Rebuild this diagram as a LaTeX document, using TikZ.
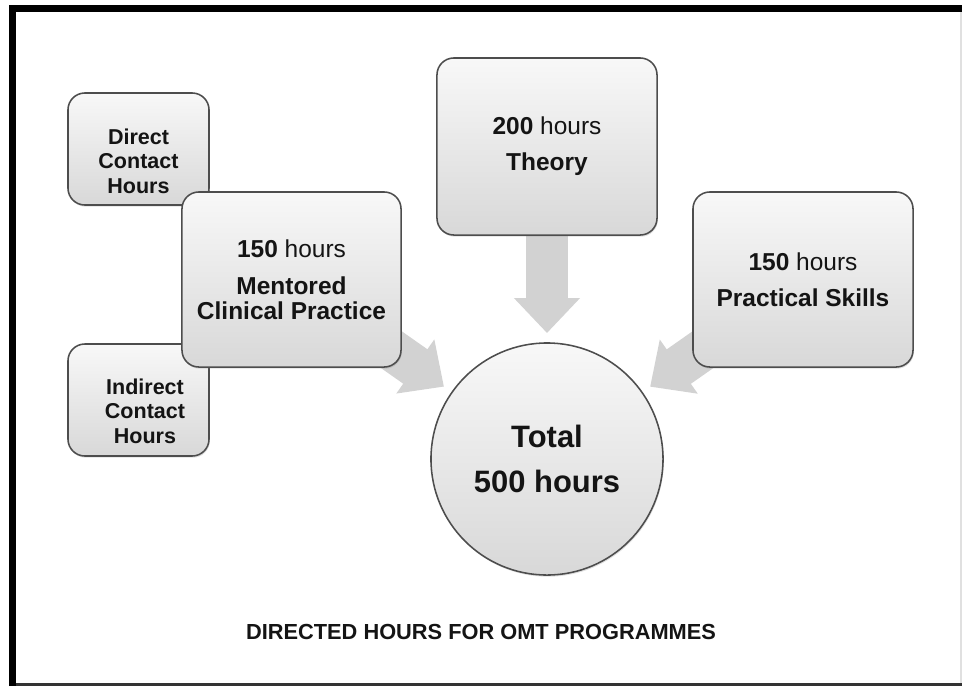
\documentclass[tikz,border=0pt]{standalone}
\usepackage{fontspec}
\setmainfont{Liberation Sans}
\usepackage{xcolor}
\usepackage{tikz}
\usetikzlibrary{positioning, arrows.meta, calc, shadows, backgrounds}
\definecolor{boxtop}{HTML}{F8F8F8}
\definecolor{boxbottom}{HTML}{D8D8D8}
\definecolor{boxedge}{HTML}{4D4D4D}
\definecolor{arrowgrey}{HTML}{D2D2D2}
\definecolor{inkblack}{HTML}{141414}

\tikzset{
  hourbox/.style={draw=boxedge, line width=1.1pt, rounded corners=12pt,
    top color=boxtop, bottom color=boxbottom, inner sep=0pt, align=center,
    text=inkblack, font=\fontsize{17.4}{17.8}\selectfont,
    drop shadow={opacity=0.25, shadow xshift=0.6pt, shadow yshift=-1.2pt}},
  sidebox/.style={hourbox, minimum width=3.525cm, minimum height=2.8cm},
  sidetext/.style={align=center, inner sep=0pt, text=inkblack,
    font=\fontsize{15.3}{17.4}\selectfont\bfseries},
  feed/.style={draw=arrowgrey, line width=29.9pt, shorten >=6.5pt,
    -{Triangle[length=24.9pt, width=45.5pt]}}
}

\begin{document}
\begin{tikzpicture}[x=0.025cm, y=-0.025cm]
  \useasboundingbox (0,0) rectangle (962,686);

  % frame
  \draw[line width=5pt] (12.5,686) -- (12.5,8.5) -- (962,8.5);
  \draw[line width=2pt, black!80] (16,684.5) -- (962,684.5);
  \draw[line width=0.8pt, black!12] (961,12) -- (961,683);

  % contact hours behind the clinical practice box
  \node[sidebox] (direct) at (138.5,149) {};
  \node[sidetext] (directtxt) at (138.5,161) {Direct\\Contact\\Hours};
  \node[sidebox] (indirect) at (138.5,400) {};
  \node[sidetext] (indirecttxt) at (145,411) {Indirect\\Contact\\Hours};

  \node[hourbox, minimum width=5.475cm, minimum height=4.375cm] (clinical) at (291.5,279.5)
    {\textbf{150} hours\\[8.5pt]\textbf{Mentored}\\\textbf{Clinical Practice}};
  \node[hourbox, minimum width=5.5cm, minimum height=4.425cm] (theory) at (547,146.5)
    {\textbf{200} hours\\[8pt]\textbf{Theory}};
  \node[hourbox, minimum width=5.5cm, minimum height=4.375cm] (skills) at (803,279.5)
    {\textbf{150} hours\\[8pt]\textbf{Practical Skills}};

  \node[circle, draw=boxedge, line width=1.1pt, top color=boxtop, bottom color=boxbottom,
        minimum size=5.8cm, inner sep=0pt, align=center, text=inkblack,
        font=\fontsize{22}{32}\selectfont\bfseries,
        drop shadow={opacity=0.25, shadow xshift=0.6pt, shadow yshift=-1.2pt}] (total) at (547,459)
    {Total\\500 hours};

  \begin{pgfonlayer}{background}
    \draw[feed] (clinical.center) -- (total);
    \draw[feed] (theory.center) -- (total);
    \draw[feed] (skills.center) -- (total);
  \end{pgfonlayer}

  \node[text=inkblack, font=\fontsize{15.5}{18}\selectfont\bfseries] (caption) at (481,632)
    {DIRECTED HOURS FOR OMT PROGRAMMES};
\end{tikzpicture}
\end{document}
